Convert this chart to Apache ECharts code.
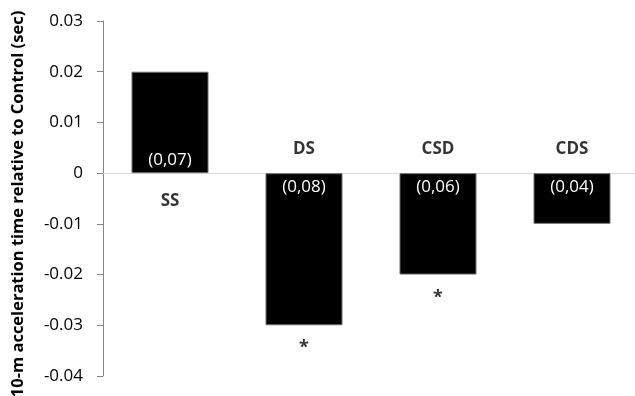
<!DOCTYPE html>
<html>
<head>
<meta charset="utf-8">
<script src="https://cdn.jsdelivr.net/npm/echarts@6/dist/echarts.min.js"></script>
<style>
  html, body { margin: 0; padding: 0; background: #fff; }
  #chart { width: 635px; height: 396px; }
</style>
</head>
<body>
<div id="chart"></div>
<script>
// Sprint conditions and their 10-m acceleration time change vs. Control (sec)
const categories = ['SS', 'DS', 'CSD', 'CDS'];
const diffValues = [0.02, -0.03, -0.02, -0.01];
const sdLabels = ['(0,07)', '(0,08)', '(0,06)', '(0,04)'];
const significance = ['', '*', '*', ''];
const yTicks = { min: -0.04, max: 0.03, interval: 0.01 };

const FONT = '"Open Sans", "Liberation Sans", sans-serif';

const chart = echarts.init(document.getElementById('chart'), null, { renderer: 'canvas' });

chart.setOption({
  animation: false,
  backgroundColor: '#ffffff',
  grid: { left: 103, width: 536, top: 21, bottom: 20, containLabel: false, outerBoundsMode: 'none' },
  xAxis: {
    type: 'category',
    data: categories,
    axisLine: { onZero: true, lineStyle: { color: '#d9d9d9', width: 1 } },
    axisTick: { show: false },
    axisLabel: { show: false },
    splitLine: { show: false }
  },
  yAxis: {
    type: 'value',
    min: yTicks.min,
    max: yTicks.max,
    interval: yTicks.interval,
    name: '10-m acceleration time relative to Control (sec)',
    nameLocation: 'middle',
    nameGap: 76,
    nameTextStyle: {
      fontFamily: FONT, fontWeight: 'bold', fontSize: 16.5, color: '#000',
      padding: [0, 11, 0, 0]
    },
    axisLine: { show: true, lineStyle: { color: '#868686', width: 1 } },
    axisTick: { show: true, inside: false, length: 6, lineStyle: { color: '#868686' } },
    axisLabel: {
      margin: 20,
      fontFamily: FONT,
      fontSize: 17,
      color: '#000',
      formatter: v => (Math.abs(v) < 1e-9 ? '0' : (Math.round(v * 100) / 100).toFixed(2))
    },
    splitLine: { show: false }
  },
  series: [
    {
      type: 'bar',
      barWidth: 77,
      data: diffValues.map((v, i) => ({
        value: v,
        label: {
          show: true,
          position: v >= 0 ? 'insideBottom' : 'insideTop',
          distance: v >= 0 ? 4 : 6,
          formatter: sdLabels[i],
          color: '#ffffff',
          fontFamily: FONT,
          fontSize: 17
        }
      })),
      itemStyle: { color: '#000000', borderColor: '#6e6e6e', borderWidth: 1 },
      z: 2
    },
    {
      // category names sit on the opposite side of the zero line from each bar
      type: 'scatter',
      symbolSize: 0,
      silent: true,
      data: diffValues.map((v, i) => ({
        value: [categories[i], 0],
        label: {
          show: true,
          position: v >= 0 ? 'bottom' : 'top',
          distance: v >= 0 ? 20 : 15,
          formatter: categories[i],
          fontFamily: FONT,
          fontWeight: 'bold',
          fontSize: 17,
          color: '#000'
        }
      })),
      z: 3
    },
    {
      // significance markers just past the end of each bar
      type: 'scatter',
      symbolSize: 0,
      silent: true,
      data: diffValues.map((v, i) => ({
        value: [categories[i], v],
        label: {
          show: significance[i] !== '',
          position: 'bottom',
          distance: 14,
          formatter: significance[i],
          fontFamily: FONT,
          fontWeight: 'bold',
          fontSize: 18,
          color: '#000'
        }
      })),
      z: 3
    }
  ]
});
</script>
</body>
</html>
